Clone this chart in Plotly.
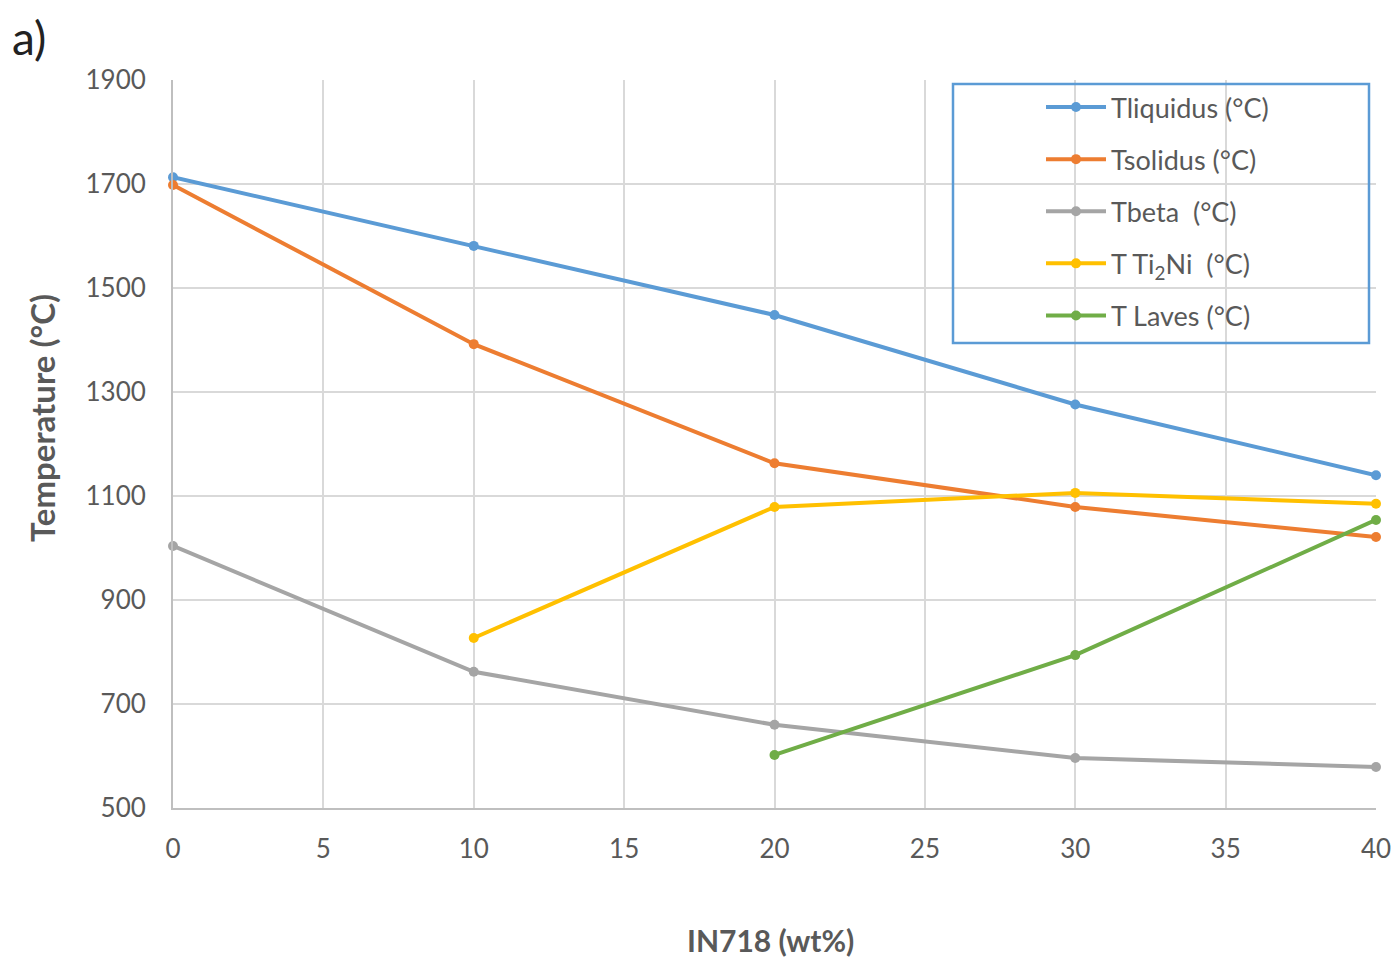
import plotly.graph_objects as go

x_vals = [0, 10, 20, 30, 40]
t_liquidus = [1713, 1581, 1448, 1276, 1140]
t_solidus = [1698, 1392, 1163, 1079, 1021]
t_beta = [1004, 762, 660, 596, 579]
ti2ni_x = [10, 20, 30, 40]
t_ti2ni = [827, 1079, 1106, 1085]
laves_x = [20, 30, 40]
t_laves = [602, 794, 1054]

x_ticks = [0, 5, 10, 15, 20, 25, 30, 35, 40]
y_ticks = [500, 700, 900, 1100, 1300, 1500, 1700, 1900]

series = [
    ("Tliquidus (°C)", x_vals, t_liquidus, "#5b9bd5"),
    ("Tsolidus (°C)", x_vals, t_solidus, "#ed7d31"),
    ("Tbeta  (°C)", x_vals, t_beta, "#a5a5a5"),
    ("T Ti<sub>2</sub>Ni  (°C)", ti2ni_x, t_ti2ni, "#ffc000"),
    ("T Laves (°C)", laves_x, t_laves, "#70ad47"),
]

FONT = "Lato"
fig = go.Figure()
for i, (name, xs, ys, col) in enumerate(series):
    fig.add_trace(go.Scatter(
        x=xs, y=ys, name=name, mode="lines+markers",
        line=dict(color=col, width=4),
        marker=dict(color=col, size=10),
        cliponaxis=False, legendgroup=str(i),
    ))

# body margin is removed by post_script, so figure coords == page coords
W, H = 1399, 961
L, T = 173, 80
R = W - 1376
B = H - 808
pw = W - L - R
ph = H - T - B

def px_x(p):
    return (p - L) / pw

def px_y(p):
    return (H - B - p) / ph

fig.update_layout(
    width=W, height=H,
    margin=dict(l=L, r=R, t=T, b=B, pad=0, autoexpand=False),
    paper_bgcolor="white", plot_bgcolor="white",
    font=dict(family=FONT, color="#595959", size=26),
    showlegend=True,
    legend=dict(
        x=px_x(1041), y=px_y(83), xanchor="left", yanchor="top",
        bgcolor="rgba(0,0,0,0)", borderwidth=0,
        font=dict(family=FONT, size=27, color="#595959"),
        traceorder="grouped", tracegroupgap=14, itemwidth=60,
    ),
    xaxis=dict(
        range=[0, 40], tickvals=x_ticks, showgrid=True, gridcolor="#d9d9d9", gridwidth=2,
        showline=True, linecolor="#bfbfbf", linewidth=2, zeroline=False,
        ticks="", ticklabelstandoff=17, automargin=False,
    ),
    yaxis=dict(
        range=[500, 1900], tickvals=y_ticks, showgrid=True, gridcolor="#d9d9d9", gridwidth=2,
        showline=True, linecolor="#bfbfbf", linewidth=2, zeroline=False,
        ticks="", ticklabelstandoff=20, automargin=False,
    ),
    shapes=[dict(
        type="rect", xref="paper", yref="paper",
        x0=px_x(953), x1=px_x(1369), y0=px_y(343), y1=px_y(84),
        line=dict(color="#5b9bd5", width=2.5), fillcolor="rgba(0,0,0,0)", layer="above",
    )],
    annotations=[
        dict(text="a)", xref="paper", yref="paper", x=px_x(10), y=px_y(38),
             xanchor="left", yanchor="middle", showarrow=False,
             font=dict(family=FONT, size=46, color="#222222")),
        dict(text="<b>IN718 (wt%)</b>", xref="paper", yref="paper",
             x=px_x(770), y=px_y(940), xanchor="center", yanchor="middle",
             showarrow=False, font=dict(family=FONT, size=30, color="#595959")),
        dict(text="<b>Temperature (°C)</b>", xref="paper", yref="paper",
             x=px_x(42), y=px_y(418), xanchor="center", yanchor="middle",
             textangle=-90, showarrow=False, font=dict(family=FONT, size=33, color="#595959")),
    ],
)

fig.write_html("out.html", config={"displayModeBar": False},
               post_script="document.body.style.margin='0';")
